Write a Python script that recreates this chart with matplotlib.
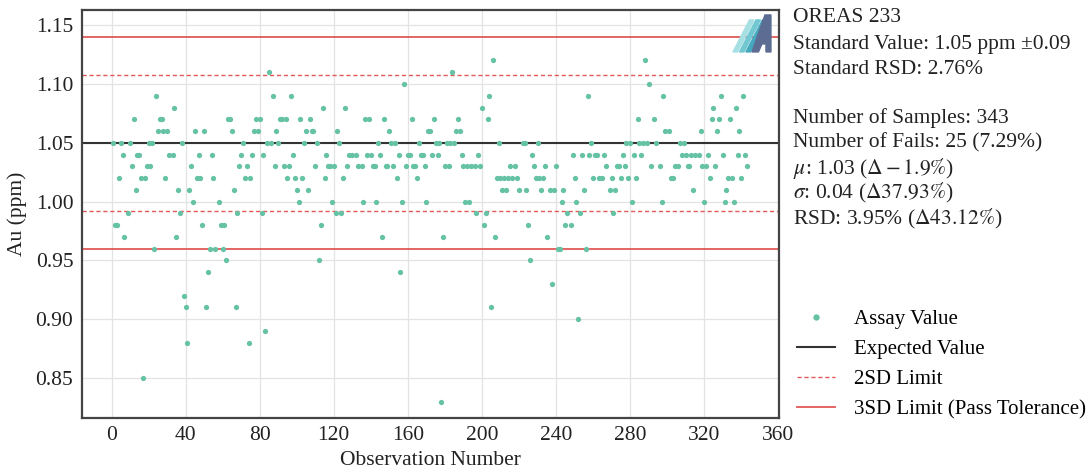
import matplotlib
matplotlib.use("Agg")
import matplotlib.pyplot as plt
from matplotlib.patches import Polygon

# observation number / assay value (ppm)
obs = [1, 2, 3, 4, 5, 6, 7, 9, 10, 11, 12, 13, 14, 15, 16, 17, 18, 19, 20, 21,
       22, 23, 24, 25, 26, 27, 28, 29, 30, 31, 33, 34, 35, 36, 37, 38, 39, 40, 41, 42,
       43, 44, 45, 46, 47, 48, 49, 50, 51, 52, 53, 54, 55, 56, 58, 59, 60, 61, 62, 63, 64,
       65, 66, 67, 68, 69, 70, 71, 72, 73, 74, 75, 76, 77, 78, 79, 80, 81, 82, 83, 84,
       85, 86, 87, 88, 89, 90, 91, 92, 93, 94, 95, 96, 97, 98, 99, 100, 101, 102, 103, 104,
       105, 106, 107, 108, 109, 110, 111, 112, 113, 114, 115, 116, 117, 118, 119, 120, 121, 122, 123, 124,
       125, 126, 127, 128,
       130, 132, 133, 135, 136, 137, 138, 139, 140, 141, 142, 143, 144, 145, 146, 147, 148, 149, 150, 151,
       152, 153, 154, 155, 156, 157, 158, 159, 160, 161, 162, 163, 164, 165, 166, 167, 168, 169, 170, 171,
       172, 173, 174, 175, 176, 177, 178, 179, 180, 181, 182, 183, 184, 185, 186, 187, 188, 189, 190, 191,
       192, 193, 194,
       196, 197, 198, 199, 200, 201, 202, 203, 204, 205, 206, 207, 208, 209, 210, 211, 212, 213, 214, 215,
       216, 218, 219, 220, 222, 223, 224, 225, 226, 227, 228, 229, 230, 231, 232, 233, 234, 235, 237, 238,
       239, 240, 241, 242, 243, 244, 245, 246, 248, 249, 250, 251, 252, 253, 254, 255, 256, 257, 258, 259, 260,
       261, 262, 263, 265, 266, 267, 269, 270, 271, 272, 273, 274, 275, 276, 277, 278, 279, 280, 281, 282,
       283, 284, 285, 286, 287, 288, 289, 290, 291, 293, 294, 296, 297, 298, 299, 301, 302, 303, 304, 306,
       307, 308, 309, 310, 311, 312, 313, 314, 315, 317, 318, 319, 320, 321, 322, 323, 324, 325, 326, 327,
       328, 329, 330, 331, 332, 333, 334, 335, 336, 337, 338, 339, 340, 341, 342, 343]

au = [1.05, 0.98, 0.98, 1.02, 1.05, 1.04, 0.97, 0.99, 1.05, 1.03, 1.07, 1.01, 1.04, 1.04, 1.02, 0.85, 1.02, 1.03, 1.05, 1.03,
      1.05, 0.96, 1.09, 1.06, 1.07, 1.07, 1.06, 1.02, 1.06, 1.04, 1.04, 1.08, 0.97, 1.01, 0.99, 1.05, 0.92, 0.91, 0.88, 1.01,
      1.03, 1.00, 1.06, 1.02, 1.04, 1.02, 0.98, 1.06, 0.91, 0.94, 0.96, 1.04, 1.02, 0.96, 1.00, 0.98, 0.96, 0.98, 0.95, 1.07, 1.07,
      1.06, 1.01, 0.91, 0.99, 1.03, 1.04, 1.05, 1.02, 1.03, 0.88, 1.02, 1.04, 1.06, 1.07, 1.06, 1.07, 0.99, 1.04, 0.89, 1.05,
      1.11, 1.05, 1.09, 1.03, 1.06, 1.05, 1.07, 1.07, 1.03, 1.07, 1.02, 1.03, 1.09, 1.04, 1.02, 1.01, 1.00, 1.07, 1.02, 1.05,
      1.06, 1.01, 1.07, 1.06, 1.06, 1.03, 1.05, 0.95, 0.98, 1.08, 1.02, 1.04, 1.03, 1.03, 1.00, 1.03, 0.99, 1.06, 1.05, 0.99,
      1.02, 1.08, 1.03, 1.04,
      1.04, 1.04, 1.03, 1.03, 1.00, 1.07, 1.04, 1.07, 1.04, 1.03, 1.03, 1.00, 1.05, 1.04, 0.97, 1.07, 1.03, 1.03, 1.06, 1.05,
      1.03, 1.05, 1.02, 1.04, 0.94, 1.00, 1.10, 1.03, 1.04, 1.04, 1.07, 1.03, 1.03, 1.02, 1.05, 1.04, 1.04, 1.03, 1.00, 1.06,
      1.06, 1.04, 1.07, 1.05, 1.04, 1.05, 0.83, 0.97, 1.03, 1.05, 1.03, 1.05, 1.11, 1.05, 1.06, 1.07, 1.06, 1.04, 1.03, 1.00,
      1.03, 1.00, 1.03,
      1.03, 0.99, 1.04, 1.03, 1.08, 0.98, 0.99, 1.07, 1.09, 0.91, 1.12, 0.97, 1.02, 1.05, 1.02, 1.01, 1.02, 1.01, 1.02, 1.03,
      1.02, 1.03, 1.02, 1.01, 1.05, 1.05, 1.01, 0.98, 0.95, 1.04, 1.03, 1.02, 1.05, 1.02, 1.01, 1.02, 1.03, 0.97, 1.01, 0.93,
      1.01, 1.03, 0.96, 0.96, 1.00, 1.01, 0.98, 0.99, 0.98, 1.04, 1.02, 1.00, 0.90, 0.99, 1.04, 1.01, 0.96, 1.09, 1.04, 1.05, 1.02,
      1.04, 1.04, 1.02, 1.02, 1.04, 1.03, 1.01, 1.02, 0.99, 1.01, 1.03, 1.03, 1.02, 1.04, 1.03, 1.05, 1.02, 1.05, 1.00, 1.04,
      1.02, 1.07, 1.05, 1.04, 1.05, 1.12, 1.05, 1.10, 1.03, 1.07, 1.05, 1.03, 1.00, 1.09, 1.06, 1.06, 1.02, 1.02, 1.03, 1.03,
      1.05, 1.04, 1.05, 1.04, 1.03, 1.03, 1.04, 1.01, 1.04, 1.04, 1.06, 1.03, 1.00, 1.03, 1.04, 1.02, 1.07, 1.08, 1.03, 1.06,
      1.07, 1.09, 1.04, 1.00, 1.01, 1.02, 1.07, 1.02, 1.00, 1.08, 1.04, 1.06, 1.02, 1.09, 1.04, 1.03]

expected = 1.05
sd = 0.029
tol = 0.09

info_lines = ["OREAS 233",
              "Standard Value: 1.05 ppm \u00b10.09",
              "Standard RSD: 2.76%",
              "",
              "Number of Samples: 343",
              "Number of Fails: 25 (7.29%)",
              "$\\mu$: 1.03 ($\\Delta-1.9\\%$)",
              "$\\sigma$: 0.04 ($\\Delta37.93\\%$)",
              "RSD: 3.95% ($\\Delta43.12\\%$)"]

plt.rcParams['font.family'] = ['Liberation Serif', 'DejaVu Serif']
plt.rcParams['mathtext.fontset'] = 'stix'

dot_color = '#66c2a5'
red = '#e05858'

fig = plt.figure(figsize=(10.92, 4.73), dpi=100)
ax = fig.add_axes([0.0748, 0.1163, 0.6388, 0.8627])

ax.plot(obs, au, 'o', color=dot_color, ms=3.8, mew=0, zorder=3, label='Assay Value')
ax.axhline(expected, color='#333333', lw=1.5, zorder=2, label='Expected Value')
ax.axhline(expected + 2 * sd, color=red, lw=1.0, ls=(0, (3, 2)), zorder=2, label='2SD Limit')
ax.axhline(expected - 2 * sd, color=red, lw=1.0, ls=(0, (3, 2)), zorder=2)
ax.axhline(expected + tol, color=red, lw=1.3, zorder=2, label='3SD Limit (Pass Tolerance)')
ax.axhline(expected - tol, color=red, lw=1.3, zorder=2)

ax.set_xlim(-16.1, 360.5)
ax.set_ylim(0.816, 1.163)
ax.set_xticks(range(0, 361, 40))
ax.set_yticks([0.85, 0.90, 0.95, 1.00, 1.05, 1.10, 1.15])
ax.set_yticklabels(['%.2f' % v for v in ax.get_yticks()])
ax.tick_params(length=0, labelsize=15.5, pad=6, colors='#222222')
ax.grid(True, color='#e3e3e3', lw=0.9, zorder=0)
ax.set_axisbelow(True)
for s in ax.spines.values():
    s.set_color('#444444')
    s.set_linewidth(1.6)

ax.set_xlabel('Observation Number', fontsize=15.5, labelpad=4, color='#222222')
ax.set_ylabel('Au (ppm)', fontsize=15.5, labelpad=6, color='#222222')


# logo in the top right corner, drawn in pixel space of the axes box
def to_ax(px, py):
    return ((px - 81.7) / 697.6, (418 - py) / 408)


stripes = ['#a6e0e3', '#72c8d2', '#45a8be']
for i, c in enumerate(stripes):
    x0 = 733 + i * 6.5
    pts = [to_ax(x0, 52), to_ax(x0 + 4.5, 52), to_ax(x0 + 21, 20), to_ax(x0 + 16.5, 20)]
    ax.add_patch(Polygon(pts, closed=True, transform=ax.transAxes, color=c, zorder=4))
a_pts = [(752, 52), (758.5, 52), (762, 44), (766, 44), (766, 52), (771, 52),
         (771, 15), (765, 15)]
ax.add_patch(Polygon([to_ax(*p) for p in a_pts], closed=True, transform=ax.transAxes,
                     color='#5d6c92', zorder=5))

ys = [18, 44, 70, 94, 118, 143, 168, 193, 219]
for line, py in zip(info_lines, ys):
    if line:
        fig.text(0.726, 1 - py / 473, line, fontsize=15.5, va='center', ha='left', color='#222222')

fig.legend(loc='upper left', bbox_to_anchor=(0.713, 0.385), frameon=False, fontsize=15,
           handlelength=1.8, handletextpad=0.9, labelspacing=0.5, markerscale=1.2)

fig.savefig('out.png', dpi=100)
